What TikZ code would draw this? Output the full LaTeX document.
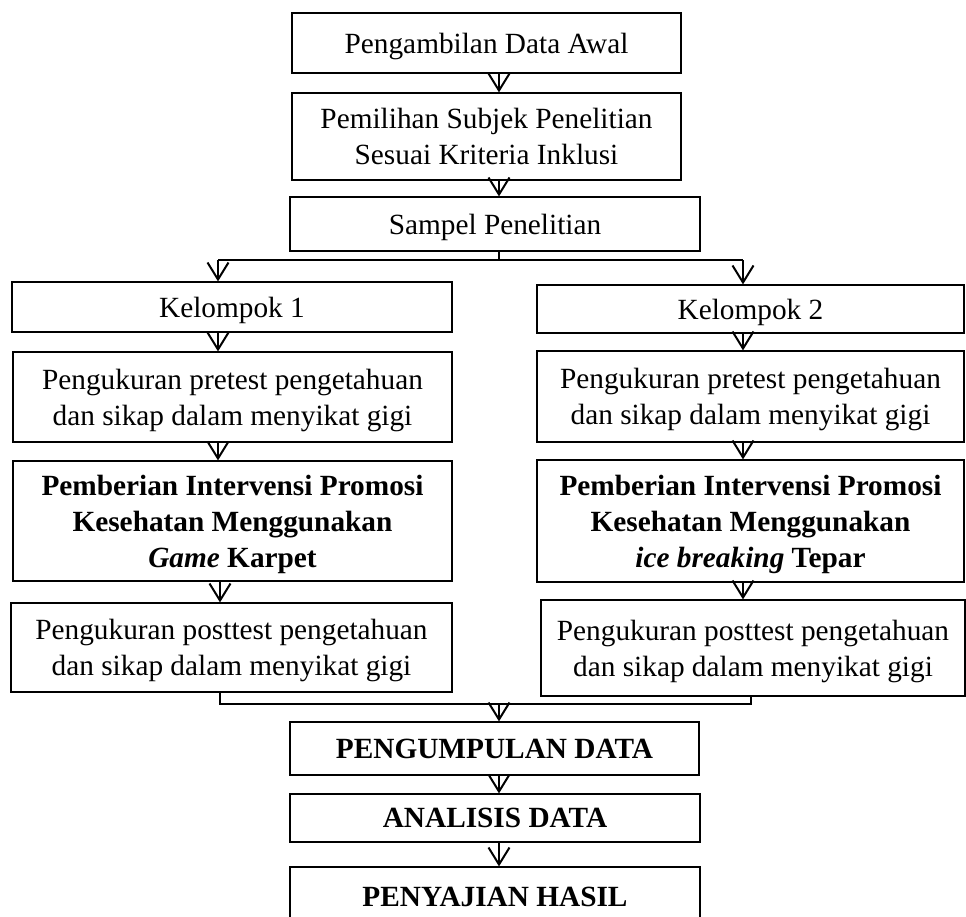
\documentclass[tikz,border=0pt]{standalone}
\usepackage{fontspec}
\setmainfont{Liberation Serif}
\usetikzlibrary{arrows.meta}
\begin{document}
\begin{tikzpicture}[x=1pt,y=-1pt,
  box/.style={draw, line width=1.2pt, align=center, inner sep=0pt, text depth=0pt,
    font=\fontsize{29.3}{36}\selectfont},
  conn/.style={line width=2pt},
  arr/.style={line width=2pt, -{Straight Barb[length=17pt,width=21pt]}}]
\useasboundingbox (0,0) rectangle (966,916);
\clip (0,0) rectangle (966,916);
\coordinate (cL) at (218,0);
\coordinate (cL2) at (220,0);
\coordinate (cR) at (743,0);
\coordinate (cR2) at (751,0);
\coordinate (cC) at (499,0);
\coordinate (split) at (499,260);
\coordinate (merge) at (499,704);

\node[box, minimum width=389pt, minimum height=60pt] (b1) at (486.5,43) {Pengambilan Data Awal};
\node[box, minimum width=389pt, minimum height=87pt] (b2) at (486.5,136.5) {Pemilihan Subjek Penelitian\\Sesuai Kriteria Inklusi};
\node[box, minimum width=410pt, minimum height=54pt] (b3) at (495,224) {Sampel Penelitian};

\node[box, minimum width=440pt, minimum height=50pt] (k1) at (232,307) {Kelompok 1};
\node[box, minimum width=427pt, minimum height=48pt] (k2) at (750.5,309) {Kelompok 2};

\node[box, minimum width=439pt, minimum height=90pt] (pre1) at (232.5,397) {Pengukuran pretest pengetahuan\\dan sikap dalam menyikat gigi};
\node[box, minimum width=427pt, minimum height=91pt] (pre2) at (750.5,396.5) {Pengukuran pretest pengetahuan\\dan sikap dalam menyikat gigi};

\node[box, minimum width=439pt, minimum height=120pt] (int1) at (232.5,521) {\textbf{Pemberian Intervensi Promosi}\\\textbf{Kesehatan Menggunakan}\\\textbf{\textit{Game} Karpet}};
\node[box, minimum width=427pt, minimum height=122pt] (int2) at (750.5,521) {\textbf{Pemberian Intervensi Promosi}\\\textbf{Kesehatan Menggunakan}\\\textbf{\textit{ice breaking} Tepar}};

\node[box, minimum width=441pt, minimum height=89pt] (post1) at (231.5,647.5) {Pengukuran posttest pengetahuan\\dan sikap dalam menyikat gigi};
\node[box, minimum width=424pt, minimum height=96pt] (post2) at (753,648) {Pengukuran posttest pengetahuan\\dan sikap dalam menyikat gigi};

\node[box, minimum width=409pt, minimum height=53pt] (pg) at (494.5,748.5) {\textbf{PENGUMPULAN DATA}};
\node[box, minimum width=410pt, minimum height=48pt] (an) at (495,818) {\textbf{ANALISIS DATA}};
\node[box, minimum width=410pt, minimum height=60pt] (ps) at (495,897) {\textbf{PENYAJIAN HASIL}};

\draw[arr] (b1.south -| cC) -- (b2.north -| cC);
\draw[arr] (b2.south -| cC) -- (b3.north -| cC);
\draw[conn] (b3.south -| cC) -- (split);
\draw[conn] (split -| cL) -- (split -| cR);
\draw[arr] (split -| cL) -- (k1.north -| cL);
\draw[arr] (split -| cR) -- (k2.north -| cR);

\draw[arr] (k1.south -| cL) -- (pre1.north -| cL);
\draw[arr] (pre1.south -| cL) -- (int1.north -| cL);
\draw[arr] (int1.south -| cL2) -- (post1.north -| cL2);

\draw[arr] (k2.south -| cR) -- (pre2.north -| cR);
\draw[arr] (pre2.south -| cR) -- (int2.north -| cR);
\draw[arr] (int2.south -| cR) -- (post2.north -| cR);

\draw[conn] (post1.south -| cL2) -- (merge -| cL2) -- (merge -| cR2) -- (post2.south -| cR2);
\draw[arr] (merge) -- (pg.north -| cC);
\draw[arr] (pg.south -| cC) -- (an.north -| cC);
\draw[arr] (an.south -| cC) -- (ps.north -| cC);
\end{tikzpicture}
\end{document}
